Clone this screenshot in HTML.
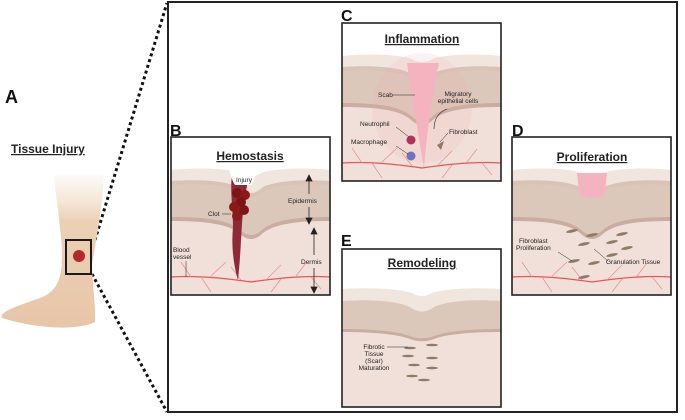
<!DOCTYPE html>
<html><head><meta charset="utf-8"><style>
html,body{margin:0;padding:0;background:#fff;}
svg{display:block;font-family:"Liberation Sans",Arial,sans-serif;}
</style></head><body>
<svg width="685" height="420" viewBox="0 0 685 420" xmlns="http://www.w3.org/2000/svg">
<defs>
<g id="skin">
  <rect x="0" y="0" width="159" height="158" fill="#fff"/>
  <path d="M0,33 C30,30 60,32 70,36 C75,40 85,40 90,36 C100,32 130,30 159,33 L159,158 L0,158 Z" fill="#f1e6de"/>
  <path d="M0,44 C30,42 55,44 68,50 C76,58 84,58 92,50 C105,44 130,42 159,44 L159,158 L0,158 Z" fill="#d8c3b6"/>
  <path d="M0,48 C30,46 55,48 68,54 C76,62 84,62 92,54 C105,48 130,46 159,48 L159,158 L0,158 Z" fill="#dcc8bb"/>
  <path d="M0,80 C30,80 55,82 68,92 C76,100 84,100 92,92 C105,82 130,80 159,80 L159,158 L0,158 Z" fill="#c9ada0"/>
  <path d="M0,84 C30,84 55,86 68,96 C76,104 84,104 92,96 C105,86 130,84 159,84 L159,158 L0,158 Z" fill="#f1e0d9"/>
  <path d="M0,140 C30,138 60,142 80,145 C100,142 130,138 159,140" stroke="#e8555a" stroke-width="1.3" fill="none"/>
  <path d="M20,140 L10,125 M40,139 L55,125 M70,143 L60,130 M95,143 L110,128 M125,139 L135,126 M140,140 L150,152 M30,140 L40,155 M110,142 L100,155" stroke="#ec8a8c" stroke-width="0.7" fill="none"/>
</g>
</defs>

<rect x="168" y="2" width="509" height="410" fill="none" stroke="#222" stroke-width="2"/>
<line x1="95" y1="240" x2="167" y2="3" stroke="#111" stroke-width="3" stroke-dasharray="3,3"/>
<line x1="92" y1="274" x2="167" y2="412" stroke="#111" stroke-width="3" stroke-dasharray="3,3"/>

<text x="5" y="103" font-size="18" font-weight="bold" fill="#111">A</text>
<text x="11" y="153" font-size="12" font-weight="bold" fill="#222" text-decoration="underline">Tissue Injury</text>
<defs><linearGradient id="leg" x1="0" y1="0" x2="0" y2="1"><stop offset="0" stop-color="#f4e3d3" stop-opacity="0.2"/><stop offset="0.3" stop-color="#ecd0b5"/><stop offset="1" stop-color="#e8c6a8"/></linearGradient></defs>
<path d="M54,175 L104,175 C102,210 96,240 92,265 C93,290 96,310 95,322 C80,330 40,330 2,318 C-2,312 20,305 40,298 C62,290 62,270 62,250 C60,220 56,200 54,175 Z" fill="url(#leg)"/>
<rect x="66" y="240" width="25" height="34" fill="none" stroke="#1a1a1a" stroke-width="2"/>
<circle cx="79" cy="256" r="6" fill="#b52a2a"/>

<text x="170" y="136" font-size="16" font-weight="bold" fill="#111">B</text>
<g transform="translate(171,137)">
  <use href="#skin"/>
  <path d="M62,33 L80,33 C76,45 74,60 72,75 C70,95 70,115 67,143 C63,130 60,110 62,90 C62,70 58,48 62,33 Z" fill="#8e2a36"/>
  <path d="M58,33 L88,33 C84,40 82,45 80,48 L64,48 C62,45 60,40 58,33 Z" fill="#fff"/>
  <circle cx="66" cy="56" r="5" fill="#7d1515"/><circle cx="74" cy="58" r="5" fill="#8a1a1a"/><circle cx="70" cy="65" r="5" fill="#7d1515"/><circle cx="63" cy="70" r="5" fill="#8a1a1a"/><circle cx="73" cy="73" r="5" fill="#7d1515"/><circle cx="66" cy="79" r="5" fill="#8a1a1a"/>
  <text x="73" y="45" font-size="6.5" text-anchor="middle" fill="#222">Injury</text>
  <text x="37" y="79" font-size="6.5" fill="#222">Clot</text><line x1="51" y1="77" x2="60" y2="77" stroke="#222" stroke-width="0.5"/>
  <text x="2" y="115" font-size="6.5" fill="#222">Blood</text><text x="2" y="122" font-size="6.5" fill="#222">vessel</text>
  <line x1="15" y1="124" x2="15" y2="140" stroke="#222" stroke-width="0.5"/>
  <text x="117" y="66" font-size="6.5" fill="#222">Epidermis</text>
  <text x="130" y="127" font-size="6.5" fill="#222">Dermis</text>
  <g stroke="#222" stroke-width="0.8" fill="#222">
    <line x1="138" y1="43" x2="138" y2="57"/><path d="M135,44 L138,38 L141,44 Z"/>
    <line x1="138" y1="70" x2="138" y2="82"/><path d="M135,81 L138,87 L141,81 Z"/>
    <line x1="143" y1="96" x2="143" y2="118"/><path d="M140,97 L143,91 L146,97 Z"/>
    <line x1="143" y1="131" x2="143" y2="151"/><path d="M140,150 L143,156 L146,150 Z"/>
  </g>
  <rect x="0" y="0" width="159" height="158" fill="none" stroke="#222" stroke-width="1.6"/>
  <text x="79" y="23" font-size="12" font-weight="bold" text-anchor="middle" fill="#222" text-decoration="underline">Hemostasis</text>
</g>

<text x="341" y="21" font-size="16" font-weight="bold" fill="#111">C</text>
<g transform="translate(342,23)">
  <use href="#skin"/>
  <ellipse cx="80" cy="85" rx="50" ry="55" fill="#f4a8b0" opacity="0.15"/>
  <path d="M65,40 L97,40 C90,70 86,100 82,145 C76,110 70,75 65,40 Z" fill="#f4b3bf"/>
  <circle cx="69" cy="117" r="4.5" fill="#b23060"/>
  <circle cx="69" cy="133" r="4.5" fill="#6f72c4"/>
  <path d="M95,122 L102,118 L99,127 Z" fill="#8e7a68"/>
  <text x="36" y="74" font-size="6.5" fill="#222">Scab</text><line x1="51" y1="72" x2="73" y2="72" stroke="#222" stroke-width="0.5"/>
  <text x="116" y="73" font-size="6.5" text-anchor="middle" fill="#222">Migratory</text>
  <text x="116" y="80" font-size="6.5" text-anchor="middle" fill="#222">epithelial cells</text>
  <path d="M105,86 C95,90 92,98 92,106" stroke="#222" stroke-width="0.6" fill="none"/>
  <text x="18" y="103" font-size="6.5" fill="#222">Neutrophil</text><line x1="54" y1="104" x2="67" y2="114" stroke="#222" stroke-width="0.5"/>
  <text x="9" y="121" font-size="6.5" fill="#222">Macrophage</text><line x1="54" y1="123" x2="66" y2="131" stroke="#222" stroke-width="0.5"/>
  <text x="107" y="111" font-size="6.5" fill="#222">Fibroblast</text><line x1="106" y1="110" x2="98" y2="119" stroke="#222" stroke-width="0.5"/>
  <rect x="0" y="0" width="159" height="158" fill="none" stroke="#222" stroke-width="1.6"/>
  <text x="80" y="20" font-size="12" font-weight="bold" text-anchor="middle" fill="#222" text-decoration="underline">Inflammation</text>
</g>

<text x="512" y="136" font-size="16" font-weight="bold" fill="#111">D</text>
<g transform="translate(512,137)">
  <use href="#skin"/>
  <path d="M65,36 L95,36 L93,55 C90,63 70,63 67,55 Z" fill="#f4b3bf"/>
  <g fill="#8e7a68">
    <ellipse cx="60" cy="94" rx="6" ry="1.5" transform="rotate(-12 60 94)"/>
    <ellipse cx="80" cy="98" rx="6" ry="1.5" transform="rotate(-12 80 98)"/>
    <ellipse cx="72" cy="107" rx="6" ry="1.5" transform="rotate(-12 72 107)"/>
    <ellipse cx="100" cy="105" rx="6" ry="1.5" transform="rotate(-12 100 105)"/>
    <ellipse cx="110" cy="97" rx="6" ry="1.5" transform="rotate(-12 110 97)"/>
    <ellipse cx="115" cy="111" rx="6" ry="1.5" transform="rotate(-12 115 111)"/>
    <ellipse cx="62" cy="124" rx="6" ry="1.5" transform="rotate(-12 62 124)"/>
    <ellipse cx="82" cy="126" rx="6" ry="1.5" transform="rotate(-12 82 126)"/>
    <ellipse cx="100" cy="118" rx="6" ry="1.5" transform="rotate(-12 100 118)"/>
    <ellipse cx="72" cy="140" rx="6" ry="1.5" transform="rotate(-12 72 140)"/>
  </g>
  <text x="7" y="106" font-size="6.5" fill="#222">Fibroblast</text>
  <text x="4" y="113" font-size="6.5" fill="#222">Proliferation</text>
  <line x1="46" y1="115" x2="60" y2="124" stroke="#222" stroke-width="0.5"/>
  <text x="94" y="127" font-size="6.5" fill="#222">Granulation Tissue</text>
  <line x1="96" y1="124" x2="82" y2="112" stroke="#222" stroke-width="0.5"/>
  <rect x="0" y="0" width="159" height="158" fill="none" stroke="#222" stroke-width="1.6"/>
  <text x="80" y="24" font-size="12" font-weight="bold" text-anchor="middle" fill="#222" text-decoration="underline">Proliferation</text>
</g>

<text x="341" y="246" font-size="16" font-weight="bold" fill="#111">E</text>
<g transform="translate(342,249)">
  <rect x="0" y="0" width="159" height="158" fill="#fff"/>
  <path d="M0,40 C30,38 60,40 70,44 C76,48 84,48 90,44 C100,40 130,38 159,40 L159,158 L0,158 Z" fill="#f1e6de"/>
  <path d="M0,52 C30,50 55,52 68,58 C76,64 84,64 92,58 C105,52 130,50 159,52 L159,158 L0,158 Z" fill="#dcc8bb"/>
  <path d="M0,80 C30,80 55,82 68,87 C76,90 84,90 92,87 C105,82 130,80 159,80 L159,158 L0,158 Z" fill="#c9ada0"/>
  <path d="M0,83 C30,83 55,85 68,90 C76,93 84,93 92,90 C105,85 130,83 159,83 L159,158 L0,158 Z" fill="#f1e0d9"/>
  <g fill="#8e7a68">
    <ellipse cx="68" cy="99" rx="6" ry="1.3"/><ellipse cx="90" cy="96" rx="6" ry="1.3"/>
    <ellipse cx="66" cy="107" rx="6" ry="1.3"/><ellipse cx="90" cy="109" rx="6" ry="1.3"/>
    <ellipse cx="72" cy="116" rx="6" ry="1.3"/><ellipse cx="90" cy="119" rx="6" ry="1.3"/>
    <ellipse cx="70" cy="127" rx="6" ry="1.3"/><ellipse cx="82" cy="131" rx="6" ry="1.3"/>
  </g>
  <text x="32" y="100" font-size="6.5" text-anchor="middle" fill="#222">Fibrotic</text>
  <text x="32" y="107" font-size="6.5" text-anchor="middle" fill="#222">Tissue</text>
  <text x="32" y="114" font-size="6.5" text-anchor="middle" fill="#222">(Scar)</text>
  <text x="32" y="121" font-size="6.5" text-anchor="middle" fill="#222">Maturation</text>
  <line x1="45" y1="98" x2="66" y2="98" stroke="#222" stroke-width="0.5"/>
  <rect x="0" y="0" width="159" height="158" fill="none" stroke="#222" stroke-width="1.6"/>
  <text x="80" y="18" font-size="12" font-weight="bold" text-anchor="middle" fill="#222" text-decoration="underline">Remodeling</text>
</g>
</svg>
</body></html>
